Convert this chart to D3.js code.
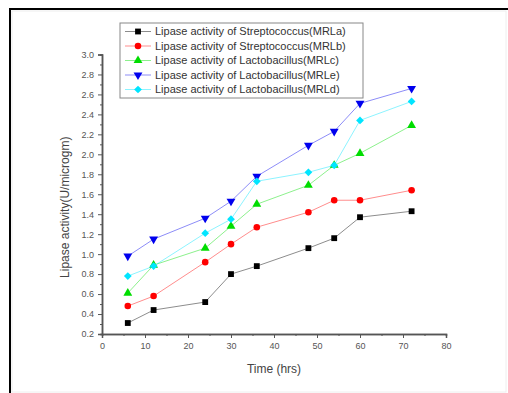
<!DOCTYPE html>
<html>
<head>
<meta charset="utf-8">
<script src="https://cdn.jsdelivr.net/npm/d3@7"></script>
<style>
  body { margin: 0; background: #fff; }
  svg text { font-family: Arial, "Liberation Sans", sans-serif; fill: #444; }
</style>
</head>
<body>
<svg width="508" height="393"></svg>
<script>
(() => {

    var width = 508;
    var height = 393;
    var margin = {top: 54.5, bottom: 59, left: 102, right: 62};

    // data
    var hours = [6, 12, 24, 30, 36, 48, 54, 60, 72];
    var mrlA = [0.31, 0.44, 0.52, 0.80, 0.88, 1.06, 1.16, 1.37, 1.43];
    var mrlB = [0.48, 0.58, 0.92, 1.10, 1.27, 1.42, 1.54, 1.54, 1.64];
    var mrlC = [0.61, 0.89, 1.06, 1.28, 1.50, 1.69, 1.89, 2.01, 2.29];
    var mrlE = [0.98, 1.15, 1.36, 1.53, 1.78, 2.09, 2.23, 2.51, 2.66];
    var mrlD = [0.78, 0.88, 1.21, 1.35, 1.73, 1.82, 1.89, 2.34, 2.53];
    var seriesNames = [
        "Lipase activity of Streptococcus(MRLa)",
        "Lipase activity of Streptococcus(MRLb)",
        "Lipase activity of Lactobacillus(MRLc)",
        "Lipase activity of Lactobacillus(MRLe)",
        "Lipase activity of Lactobacillus(MRLd)"
    ];
    var xTicks = [0, 10, 20, 30, 40, 50, 60, 70, 80];
    var yTicks = [0.2, 0.4, 0.6, 0.8, 1.0, 1.2, 1.4, 1.6, 1.8, 2.0, 2.2, 2.4, 2.6, 2.8, 3.0];

    var series = [
        {name: seriesNames[0], values: mrlA, color: '#000000', symbol: d3.symbolSquare, rot: 0, size: 34},
        {name: seriesNames[1], values: mrlB, color: '#ff0000', symbol: d3.symbolCircle, rot: 0, size: 34},
        {name: seriesNames[2], values: mrlC, color: '#00dd00', symbol: d3.symbolTriangle, rot: 0, size: 34},
        {name: seriesNames[3], values: mrlE, color: '#0000ee', symbol: d3.symbolTriangle, rot: 180, size: 34},
        {name: seriesNames[4], values: mrlD, color: '#00e5ff', symbol: d3.symbolSquare, rot: 45, size: 30}
    ];

    var svg = d3.select('svg');

    // outer frame
    svg.append('line').attr('x1', 9).attr('y1', 9).attr('x2', width).attr('y2', 9)
        .attr('stroke', '#000').attr('stroke-width', 2);
    svg.append('line').attr('x1', 10).attr('y1', 9).attr('x2', 10).attr('y2', height)
        .attr('stroke', '#000').attr('stroke-width', 2);
    svg.append('rect').attr('x', 12).attr('y', 11).attr('width', width - 14).attr('height', height - 12)
        .attr('fill', 'none').attr('stroke', '#eee');

    //scales
    var xScale = d3.scaleLinear()
        .domain([0, 80])
        .range([margin.left, width - margin.right]);
    var yScale = d3.scaleLinear()
        .domain([0.2, 3.0])
        .range([height - margin.bottom, margin.top]);

    // minor ticks
    var xAxisMinor = d3.axisBottom(xScale).tickValues(d3.range(5, 80, 10)).tickSize(2).tickFormat('');
    var yAxisMinor = d3.axisLeft(yScale).tickValues(d3.range(0.3, 3.0, 0.2)).tickSize(2).tickFormat('');

    var xAxis = d3.axisBottom(xScale).tickValues(xTicks).tickSize(4).tickPadding(5)
        .tickFormat(d3.format('d'));
    var yAxis = d3.axisLeft(yScale).tickValues(yTicks).tickSize(4).tickPadding(4)
        .tickFormat(d3.format('.1f'));

    svg.append('g')
        .attr('id', 'x-axis')
        .attr('transform', 'translate(' + [0, height - margin.bottom] + ')')
        .call(xAxis);
    svg.append('g')
        .attr('transform', 'translate(' + [0, height - margin.bottom] + ')')
        .call(xAxisMinor);
    svg.append('g')
        .attr('id', 'y-axis')
        .attr('transform', 'translate(' + [margin.left, 0] + ')')
        .call(yAxis);
    svg.append('g')
        .attr('transform', 'translate(' + [margin.left, 0] + ')')
        .call(yAxisMinor);

    svg.selectAll('.domain').attr('stroke', '#555').attr('stroke-width', 1.5);
    svg.selectAll('.tick line').attr('stroke', '#555');
    svg.selectAll('.tick text').style('font-size', '9px').style('fill', '#555')
        .style('font-family', 'Arial, "Liberation Sans", sans-serif');

    // axis titles
    svg.append('text')
        .attr('x', xScale(40))
        .attr('y', 373)
        .attr('text-anchor', 'middle')
        .style('font-size', '12px')
        .text('Time (hrs)');
    svg.append('text')
        .attr('transform', 'translate(69,' + yScale(1.47) + ') rotate(-90)')
        .attr('text-anchor', 'middle')
        .style('font-size', '12px')
        .text('Lipase activity(U/microgm)');

    // lines and markers
    var line = d3.line()
        .x(function (d, i) { return xScale(hours[i]); })
        .y(function (d) { return yScale(d); });

    series.forEach(function (s) {
        svg.append('path')
            .attr('d', line(s.values))
            .attr('fill', 'none')
            .attr('stroke', s.color)
            .attr('stroke-opacity', 0.45)
            .attr('stroke-width', 1);
        svg.selectAll(null)
            .data(s.values)
            .enter().append('path')
            .attr('d', d3.symbol().type(s.symbol).size(s.size))
            .attr('transform', function (d, i) {
                return 'translate(' + [xScale(hours[i]), yScale(d)] + ') rotate(' + s.rot + ')';
            })
            .attr('fill', s.color);
    });

    // legend
    var legend = svg.append('g').attr('transform', 'translate(120,23)');
    legend.append('rect')
        .attr('width', 243).attr('height', 75)
        .attr('fill', '#fff').attr('stroke', '#888').attr('stroke-width', 1);
    series.forEach(function (s, i) {
        var y = 8.5 + i * 14.5;
        legend.append('line')
            .attr('x1', 5).attr('x2', 31).attr('y1', y).attr('y2', y)
            .attr('stroke', s.color).attr('stroke-opacity', 0.45);
        legend.append('path')
            .attr('d', d3.symbol().type(s.symbol).size(s.size))
            .attr('transform', 'translate(' + [18, y] + ') rotate(' + s.rot + ')')
            .attr('fill', s.color);
        legend.append('text')
            .attr('x', 35).attr('y', y + 3.8)
            .style('font-size', '11px')
            .style('fill', '#333')
            .text(s.name);
    });

})();
</script>
</body>
</html>
